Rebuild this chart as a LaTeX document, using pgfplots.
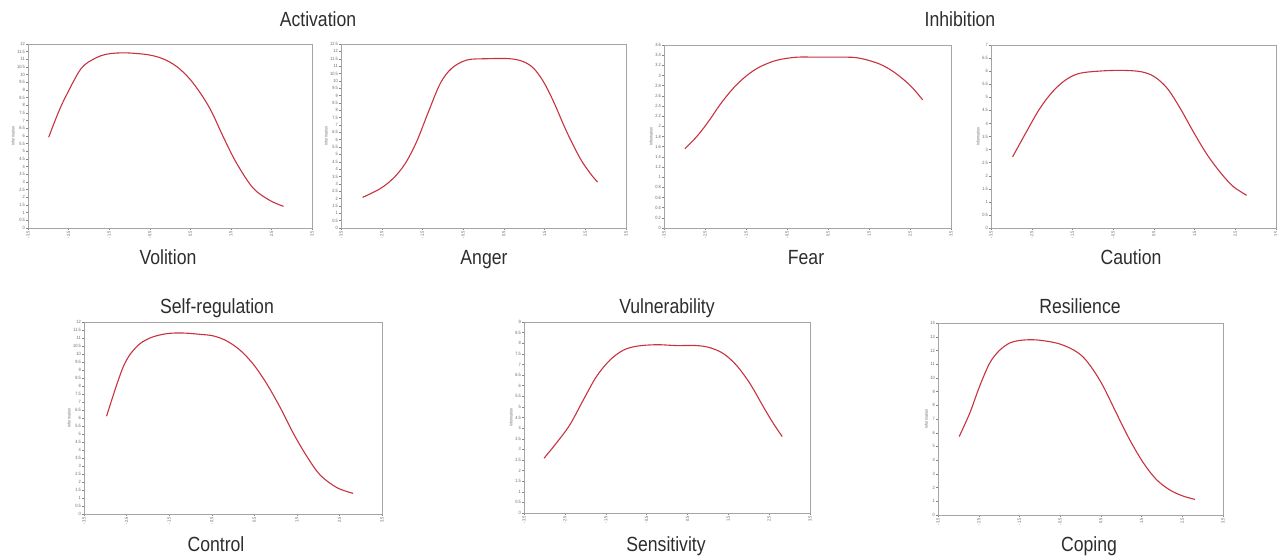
\documentclass[border=0pt]{standalone}
\usepackage{pgfplots}
\pgfplotsset{compat=1.18}
\usepackage{fontspec}
\setmainfont[FakeStretch=0.86]{Liberation Sans}
\definecolor{curve}{RGB}{200,50,62}
\definecolor{frame}{RGB}{165,165,165}
\definecolor{txt}{RGB}{45,45,45}
\pgfplotsset{
  panel/.style={
    scale only axis,
    xmin=-3.5, xmax=3.5, ymin=0,
    xtick={-3.5,-2.5,-1.5,-0.5,0.5,1.5,2.5,3.5},
    xticklabels={-3.5,-2.5,-1.5,-0.5,0.5,1.5,2.5,3.5},
    axis line style={frame, line width=0.9pt},
    tick pos=left, tick align=outside,
    major tick length=2pt,
    every tick/.style={frame!80!black, line width=0.4pt},
    /pgf/number format/assume math mode=true,
    ticklabel style={font=\fontsize{4.6}{5}\selectfont, text=black!60},
    xticklabel style={rotate=90, anchor=east, inner sep=1pt},
    yticklabel style={inner sep=1pt},
    ylabel={Information},
    ylabel style={font=\fontsize{4.2}{5}\selectfont, text=black!60, yshift=-2pt},
    anchor=south west,
  },
  crv/.style={curve, line width=1.1pt, smooth, tension=0.55},
}
\begin{document}
\begin{tikzpicture}
\path[use as bounding box] (0,0) rectangle (1277pt,555pt);
\begin{scope}[every node/.style={text=txt, anchor=base, inner sep=0pt, font=\fontsize{20.5}{22}\selectfont}]
\node at (318pt,528pt) {Activation};
\node at (960pt,528pt) {Inhibition};
\node at (168pt,290pt) {Volition};
\node at (484pt,290pt) {Anger};
\node at (806pt,290pt) {Fear};
\node at (1131pt,290pt) {Caution};
\node at (217pt,241pt) {Self-regulation};
\node at (667pt,241pt) {Vulnerability};
\node at (1080pt,241pt) {Resilience};
\node at (216pt,4pt) {Control};
\node at (666pt,4pt) {Sensitivity};
\node at (1089pt,4pt) {Coping};
\end{scope}

% Volition
\begin{axis}[panel, at={(28pt,327pt)}, width=284pt, height=184pt, ymax=12, ytick distance=0.5]
\addplot[crv] coordinates {(-2.99,5.92)(-2.75,7.55)(-2.55,8.68)(-2.19,10.4)(-1.85,11.06)(-1.53,11.35)(-1.08,11.42)(-0.5,11.28)(-0.1,10.95)(0.25,10.35)(0.6,9.35)(0.98,7.81)(1.31,5.96)(1.64,4.23)(2.05,2.6)(2.46,1.8)(2.80,1.41)};
\end{axis}

% Anger
\begin{axis}[panel, at={(341pt,327pt)}, width=285pt, height=184pt, ymax=12.5, ytick distance=0.5]
\addplot[crv] coordinates {(-2.97,2.08)(-2.54,2.67)(-2.21,3.39)(-1.92,4.39)(-1.64,5.88)(-1.35,7.91)(-1.06,9.83)(-0.78,10.85)(-0.41,11.41)(0.08,11.5)(0.65,11.5)(0.98,11.3)(1.23,10.85)(1.47,9.95)(1.72,8.59)(2.04,6.56)(2.37,4.75)(2.62,3.72)(2.80,3.12)};
\end{axis}

% Fear
\begin{axis}[panel, at={(664pt,327pt)}, width=287pt, height=183pt, ymax=3.6, ytick distance=0.2]
\addplot[crv] coordinates {(-2.99,1.56)(-2.70,1.80)(-2.42,2.09)(-2.13,2.43)(-1.81,2.75)(-1.48,3.0)(-1.16,3.17)(-0.75,3.30)(-0.26,3.36)(0.22,3.36)(0.71,3.36)(1.2,3.35)(1.68,3.25)(2.01,3.12)(2.33,2.93)(2.58,2.74)(2.81,2.52)};
\end{axis}

% Caution
\begin{axis}[panel, at={(991pt,327pt)}, width=285pt, height=183pt, ymax=7, ytick distance=0.5]
\addplot[crv] coordinates {(-2.97,2.72)(-2.63,3.68)(-2.31,4.55)(-1.99,5.21)(-1.67,5.66)(-1.34,5.91)(-0.86,6.0)(-0.30,6.03)(0.18,5.98)(0.51,5.79)(0.83,5.34)(1.15,4.57)(1.47,3.68)(1.79,2.85)(2.12,2.15)(2.44,1.60)(2.78,1.25)};
\end{axis}

% Control
\begin{axis}[panel, at={(84pt,41pt)}, width=298pt, height=192pt, ymax=12, ytick distance=0.5]
\addplot[crv] coordinates {(-2.97,6.11)(-2.58,9.19)(-2.27,10.44)(-1.95,11.0)(-1.56,11.27)(-1.17,11.31)(-0.78,11.23)(-0.46,11.13)(-0.15,10.82)(0.17,10.23)(0.48,9.35)(0.79,8.15)(1.11,6.65)(1.42,5.03)(1.74,3.58)(2.05,2.43)(2.44,1.65)(2.82,1.29)};
\end{axis}

% Sensitivity
\begin{axis}[panel, at={(524pt,42pt)}, width=286pt, height=191pt, ymax=9, ytick distance=0.5]
\addplot[crv] coordinates {(-3.01,2.58)(-2.71,3.29)(-2.38,4.15)(-2.05,5.32)(-1.73,6.42)(-1.40,7.2)(-1.07,7.67)(-0.74,7.86)(-0.26,7.93)(0.23,7.89)(0.72,7.89)(1.05,7.79)(1.38,7.51)(1.70,6.96)(2.03,6.10)(2.36,5.0)(2.6,4.23)(2.82,3.60)};
\end{axis}

% Coping
\begin{axis}[panel, at={(938pt,40pt)}, width=285pt, height=192pt, ymax=14, ytick distance=1]
\addplot[crv] coordinates {(-2.98,5.72)(-2.72,7.43)(-2.48,9.37)(-2.23,11.08)(-1.99,12.0)(-1.74,12.54)(-1.49,12.73)(-1.17,12.78)(-0.84,12.68)(-0.51,12.47)(-0.18,12.05)(0.07,11.5)(0.31,10.59)(0.56,9.37)(0.88,7.43)(1.21,5.48)(1.54,3.82)(1.86,2.6)(2.19,1.83)(2.52,1.38)(2.81,1.14)};
\end{axis}
\end{tikzpicture}
\end{document}
